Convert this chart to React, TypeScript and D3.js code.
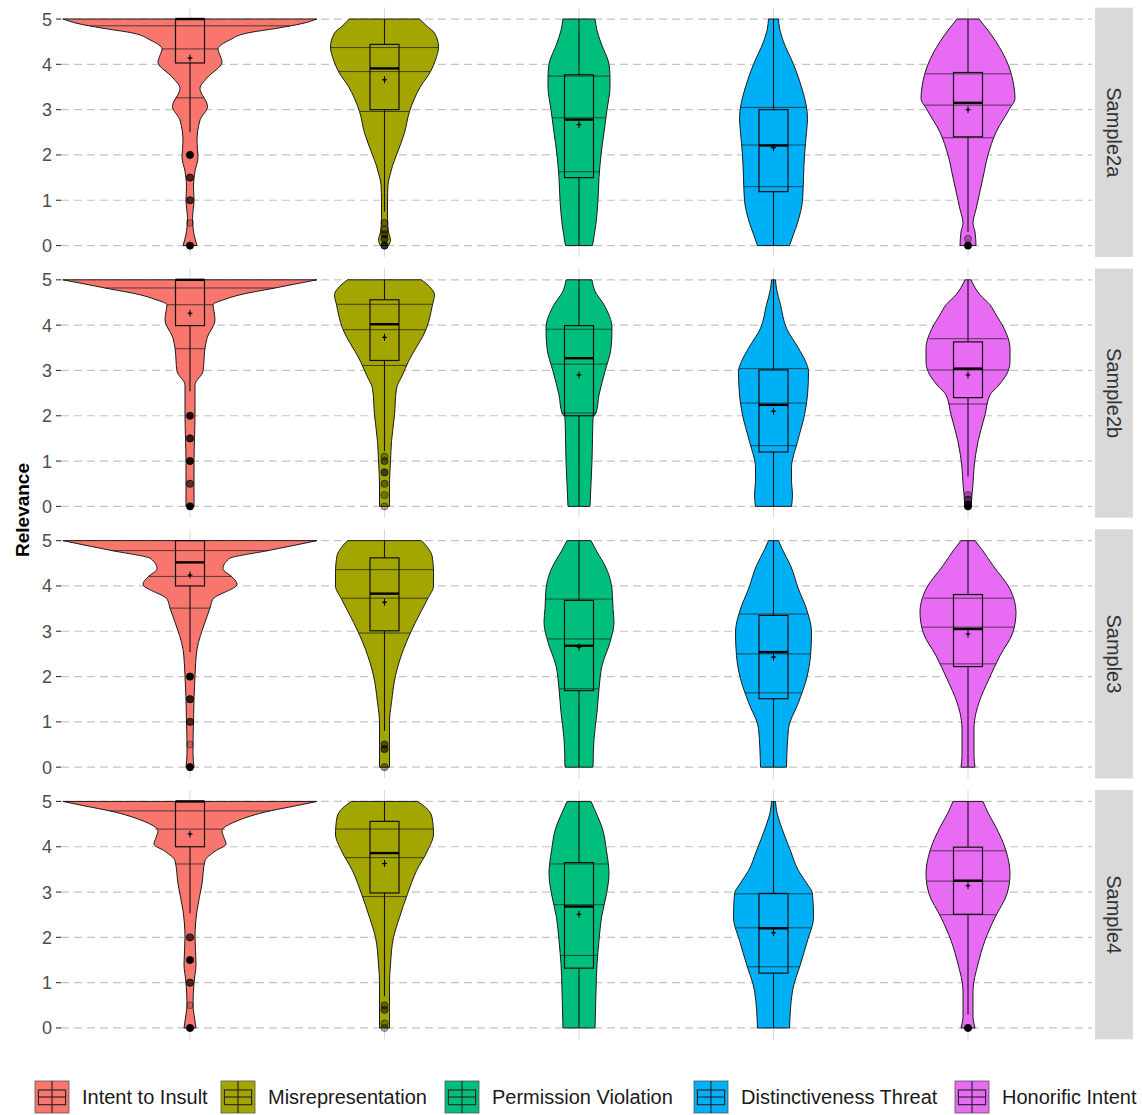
import React from "react";
import * as d3 from "d3";

// ---------- data ----------
const categories = ["Intent to Insult", "Misrepresentation", "Permission Violation", "Distinctiveness Threat", "Honorific Intent"];
const colors = ["#F8766D", "#A3A500", "#00BF7D", "#00B0F6", "#E76BF3"];
const samples = ["Sample2a", "Sample2b", "Sample3", "Sample4"];
const yTicks = [0, 1, 2, 3, 4, 5];

type Pt = [number, number];

// density profiles per category: [relevance value, density]
const density2a: Pt[][] = [
  [[0,7],[0.25,4],[0.6,2.5],[1,4],[1.3,3.5],[1.64,5],[1.95,8],[2.3,7],[2.77,10],[3.07,17.5],[3.47,10],[3.7,17],[4.05,32],[4.2,30],[4.34,28],[4.54,40],[4.69,57],[4.8,88],[4.9,112],[5,127]],
  [[0,4],[0.12,6],[0.3,4],[0.6,3],[1.0,3],[1.34,3.5],[1.6,6],[1.76,8],[2.0,12],[2.49,20],[2.96,25],[3.51,36],[3.84,46],[4.1,51],[4.38,54],[4.69,50],[4.85,42],[5,35]],
  [[0,13.5],[0.5,17],[1.0,19],[1.5,20],[2.0,22],[2.5,25],[3.0,28],[3.5,31],[3.7,31],[4.0,30],[4.47,22],[4.75,18],[5,16]],
  [[0,16],[0.25,20],[0.5,24],[1.0,29],[1.5,30],[2.0,31],[2.5,33],[2.8,34],[3.05,33],[3.5,28],[4.0,20],[4.5,10],[4.8,6],[5,5]],
  [[0,8],[0.3,7],[0.5,5],[0.8,8],[1.0,10],[1.5,15],[2.0,20],[2.5,28],[3.0,41],[3.25,47],[3.5,46],[4.0,40],[4.5,28],[4.75,20],[5,11]],
];
const density2b: Pt[][] = [
  [[0,4],[0.5,4],[1.0,4],[1.5,4.5],[2.02,5],[2.68,5],[2.98,13],[3.49,15],[3.71,17],[4.12,25],[4.3,24],[4.45,23],[4.57,35],[4.67,50],[4.82,85],[4.92,108],[5,127]],
  [[0,5],[0.5,5],[1.0,6],[1.43,7],[2.02,10],[2.6,12],[2.9,18],[3.2,24],[3.93,42],[4.45,48],[4.67,50],[4.85,45],[5,37]],
  [[0,11],[0.5,12],[1.0,13],[1.5,13.5],[1.95,14],[2.06,17],[2.46,20],[2.98,26],[3.49,32],[3.93,33],[4.45,25],[4.75,16],[5,13]],
  [[0,18],[0.26,19],[0.55,18],[0.85,18],[1.43,24],[2.02,31],[2.46,34],[2.98,35],[3.2,32],[3.49,25],[3.93,13],[4.45,7],[4.8,3],[5,2]],
  [[0,3],[0.26,4],[0.5,5],[0.85,6],[1.43,10],[2.02,17],[2.46,22],[2.68,31],[2.98,40],[3.2,42],[3.49,42],[3.93,36],[4.23,28],[4.45,22],[4.67,12],[5,3]],
];
const density3: Pt[][] = [
  [[0,4],[0.3,3],[0.5,3],[1.0,3.5],[1.5,4],[2.02,5],[2.6,7],[3.2,15],[3.51,20],[3.71,23],[4.04,47],[4.2,42],[4.38,33],[4.6,39],[4.78,78],[4.9,105],[5,127]],
  [[0,5],[0.5,5],[1.0,5],[1.43,7],[2.02,11],[2.6,19],[3.2,31],[3.71,43],[4.0,49],[4.3,49],[4.67,47.5],[4.85,43],[5,37]],
  [[0,14],[0.63,15],[1.21,18],[1.73,20],[2.24,23],[2.76,31],[3.2,35],[3.5,34],[3.93,33],[4.45,26],[4.75,18],[5,12]],
  [[0,13],[0.85,15],[1.43,25],[1.95,33],[2.46,37],[2.98,38],[3.49,33],[3.93,25],[4.45,17],[4.8,9],[5,5]],
  [[0,7],[0.26,6],[0.85,6],[1.2,8],[1.43,11],[1.95,21],[2.46,32],[2.98,45],[3.42,48],[3.93,42],[4.45,25],[4.8,14],[5,7]],
];
const density4: Pt[][] = [
  [[0,6],[0.3,4],[0.5,3],[1.0,4],[1.41,6],[2.0,5],[2.59,7],[3.18,12],[3.69,15],[3.9,25],[4.06,36],[4.2,34],[4.35,32],[4.57,47],[4.79,80],[4.9,105],[5,127]],
  [[0,5],[0.5,5],[1.0,5],[1.41,6],[2.0,9],[2.44,15],[2.96,23],[3.47,32],[3.91,43],[4.28,49],[4.65,47.5],[4.85,42],[5,33]],
  [[0,16],[0.82,17],[1.41,18],[1.93,20],[2.44,22.5],[2.96,27.5],[3.4,30],[3.91,27.5],[4.43,23],[4.75,17],[5,12]],
  [[0,16],[0.82,19],[1.41,27],[1.93,34],[2.44,40],[2.96,39],[3.2,33],[3.47,25],[3.91,17],[4.43,8],[4.8,3],[5,2]],
  [[0,7],[0.26,5],[0.82,5],[1.41,10],[1.93,17],[2.44,27],[2.96,39],[3.4,42],[3.91,38],[4.43,28],[4.75,20],[5,15]],
];

// violin quantile lines (25%, 50%, 75%)
const quant2a = [[3.26,4.34,4.85],[2.96,3.84,4.37],[1.63,2.82,3.74],[1.30,2.22,3.05],[2.38,3.10,3.79]];
const quant2b = [[3.48,4.45,4.82],[3.11,3.9,4.46],[2.06,3.14,3.91],[1.34,2.28,3.04],[2.26,3.01,3.7]];
const quant3 = [[3.51,4.21,4.78],[2.96,3.73,4.36],[1.73,2.83,3.71],[1.64,2.5,3.38],[2.28,3.09,3.73]];
const quant4 = [[3.62,4.39,4.79],[2.9,3.76,4.39],[1.6,2.72,3.62],[1.35,2.21,2.96],[2.5,3.24,3.91]];

// boxplot stats: [lower whisker, q1, median, q3, upper whisker]
const box2a = [[2.5,4.03,5,5,5],[0.75,3.0,3.91,4.44,5],[0,1.5,2.78,3.77,5],[0,1.19,2.21,3.0,5],[0.3,2.40,3.15,3.82,5]];
const box2b = [[2.54,3.99,5,5,5],[1.22,3.22,4.02,4.56,5],[0,2.0,3.27,3.99,5],[0,1.2,2.24,3.01,5],[0.66,2.4,3.04,3.63,5]];
const box3 = [[2.54,4.0,4.52,5,5],[0.8,3.01,3.83,4.62,5],[0,1.69,2.68,3.68,5],[0,1.51,2.54,3.35,5],[0,2.22,3.05,3.81,5]];
const box4 = [[2.53,4.0,5,5,5],[0.7,2.98,3.86,4.56,5],[0,1.32,2.68,3.65,5],[0,1.21,2.2,2.97,5],[0.3,2.51,3.25,3.99,5]];

const mean2a = [4.14, 3.66, 2.67, 2.16, 3.0];
const mean2b = [4.26, 3.73, 2.9, 2.1, 2.9];
const mean3 = [4.24, 3.64, 2.65, 2.43, 2.94];
const mean4 = [4.28, 3.63, 2.51, 2.1, 3.14];

// outliers: [value, opacity]
const out2a: Pt[][] = [[[2,1],[1.5,0.7],[1,0.7],[0.5,0.2],[0,1]], [[0.5,0.4],[0.35,0.4],[0.25,0.5],[0.15,0.6],[0,0.8]], [], [], [[0.15,0.3],[0,1]]];
const out2b: Pt[][] = [[[2,0.9],[1.5,0.8],[1,0.9],[0.5,0.6],[0,1]], [[1.1,0.3],[1.0,0.5],[0.75,0.6],[0.5,0.4],[0.25,0.3],[0,0.3]], [], [], [[0.25,0.3],[0.15,0.5],[0.05,0.7],[0,1]]];
const out3: Pt[][] = [[[2,1],[1.5,0.8],[1,0.7],[0.5,0.2],[0,1]], [[0.5,0.5],[0.4,0.6],[0,0.4]], [], [], []];
const out4: Pt[][] = [[[2,0.7],[1.5,1],[1,0.7],[0.5,0.2],[0,1]], [[0.5,0.4],[0.4,0.5],[0.1,0.3],[0,0.3]], [], [], [[0,1]]];

const densities = [density2a, density2b, density3, density4];
const quantiles = [quant2a, quant2b, quant3, quant4];
const boxes = [box2a, box2b, box3, box4];
const means = [mean2a, mean2b, mean3, mean4];
const outliers = [out2a, out2b, out3, out4];

// ---------- layout ----------
const W = 1142, H = 1115;
const panelLeft = 61, panelRight = 1092;
const firstTop = 7.7, panelStep = 260.8, panelH = 249.2;
const stripX = 1095, stripW = 38;
const FONT = "'Liberation Sans', Arial, sans-serif";
const legendX = [35, 221, 445, 694, 955];
const legendY = 1081, keyW = 34, keyH = 32;

const x = d3.scalePoint<string>().domain(categories).range([190, 968]);
const maxDensity = d3.max(densities.flat(2).map((p: any) => p[1])) as number;
const wScale = d3.scaleLinear().domain([0, maxDensity]).range([0, 127]);
const halfBox = 14.5;

function densAt(profile: Pt[], v: number) {
  for (let i = 0; i < profile.length - 1; i++) {
    const [a, da] = profile[i], [b, db] = profile[i + 1];
    if (v >= a && v <= b) return da + ((v - a) / (b - a)) * (db - da);
  }
  return profile[profile.length - 1][1];
}

function Panel({ idx }: { idx: number }) {
  const top = firstTop + idx * panelStep;
  const y = d3.scaleLinear().domain([-0.25, 5.25]).range([top + panelH, top]);
  return (
    <g>
      {categories.map((c) => (
        <line key={"vg" + c} x1={x(c)} x2={x(c)} y1={top} y2={top + panelH} stroke="#D9D9D9" strokeWidth={1} />
      ))}
      {yTicks.map((t) => (
        <g key={"t" + t}>
          <line x1={panelLeft} x2={panelRight} y1={y(t)} y2={y(t)} stroke="#C4C4C4" strokeWidth={1.2} strokeDasharray="8,5" />
          <line x1={56} x2={61} y1={y(t)} y2={y(t)} stroke="#333" strokeWidth={1.1} />
          <text x={52} y={y(t)} dy="0.36em" textAnchor="end" fontSize={18} fill="#4D4D4D" fontFamily={FONT}>{t}</text>
        </g>
      ))}
      {categories.map((c, ci) => {
        const cx = x(c) as number;
        const prof = [...densities[idx][ci]].sort((a, b) => b[0] - a[0]);
        const area = d3.area<Pt>()
          .y((d) => y(d[0]))
          .x0((d) => cx - wScale(d[1]))
          .x1((d) => cx + wScale(d[1]))
          .curve(d3.curveMonotoneY);
        const [lo, q1, med, q3, hi] = boxes[idx][ci];
        const m = means[idx][ci];
        const profAsc = densities[idx][ci];
        return (
          <g key={c}>
            <path d={area(prof) || ""} fill={colors[ci]} stroke="#1a1a1a" strokeWidth={1} />
            {quantiles[idx][ci].map((q, qi) => {
              const hw = wScale(densAt(profAsc, q));
              return <line key={qi} x1={cx - hw} x2={cx + hw} y1={y(q)} y2={y(q)} stroke="#222" strokeOpacity={0.75} strokeWidth={1} />;
            })}
            <line x1={cx} x2={cx} y1={y(q3)} y2={y(hi)} stroke="#111" strokeWidth={1.1} />
            <line x1={cx} x2={cx} y1={y(lo)} y2={y(q1)} stroke="#111" strokeWidth={1.1} />
            <rect x={cx - halfBox} y={y(q3)} width={halfBox * 2} height={y(q1) - y(q3)} fill="none" stroke="#111" strokeWidth={1.2} />
            <line x1={cx - halfBox} x2={cx + halfBox} y1={y(med)} y2={y(med)} stroke="#000" strokeWidth={2.4} />
            {outliers[idx][ci].map(([v, o], oi) => (
              <circle key={oi} cx={cx} cy={y(v)} r={3.6} fill="#000" fillOpacity={o} stroke="#000" strokeOpacity={Math.min(1, o + 0.2)} strokeWidth={0.8} />
            ))}
            <line x1={cx - 2.5} x2={cx + 2.5} y1={y(m)} y2={y(m)} stroke="#000" strokeWidth={1} />
            <line x1={cx} x2={cx} y1={y(m) - 3.5} y2={y(m) + 3.5} stroke="#000" strokeWidth={1} />
            <circle cx={cx} cy={y(m)} r={1.3} fill="#000" />
          </g>
        );
      })}
      <rect x={stripX} y={top} width={stripW} height={panelH} fill="#D9D9D9" />
      <text transform={`translate(${stripX + stripW / 2},${top + panelH / 2}) rotate(90)`} textAnchor="middle" dy="0.35em" fontSize={20} fill="#333" fontFamily={FONT}>{samples[idx]}</text>
    </g>
  );
}

export default function App() {
  return (
    <div style={{ position: "absolute", left: 0, top: 0 }}>
      <svg width={W} height={H} viewBox={`0 0 ${W} ${H}`} style={{ display: "block", background: "#fff" }}>
        <rect width={W} height={H} fill="#fff" />
        {samples.map((s, i) => <Panel key={s} idx={i} />)}
        <text transform={`translate(22,510) rotate(-90)`} textAnchor="middle" dy="0.35em" fontSize={19} fontWeight="bold" fill="#000" fontFamily={FONT}>Relevance</text>
        {categories.map((c, i) => {
          const kx = legendX[i];
          return (
            <g key={"lg" + c}>
              <rect x={kx} y={legendY} width={keyW} height={keyH} fill={colors[i]} stroke="#555" strokeWidth={0.8} />
              <line x1={kx + keyW / 2} x2={kx + keyW / 2} y1={legendY} y2={legendY + keyH} stroke="#222" strokeWidth={1.1} />
              <rect x={kx + keyW * 0.1} y={legendY + keyH * 0.28} width={keyW * 0.8} height={keyH * 0.46} fill="none" stroke="#222" strokeWidth={1.1} />
              <line x1={kx + keyW * 0.1} x2={kx + keyW * 0.9} y1={legendY + keyH / 2} y2={legendY + keyH / 2} stroke="#222" strokeWidth={1.1} />
              <text x={kx + keyW + 13} y={legendY + keyH / 2} dy="0.36em" fontSize={20} fill="#1A1A1A" fontFamily={FONT}>{c}</text>
            </g>
          );
        })}
      </svg>
    </div>
  );
}
